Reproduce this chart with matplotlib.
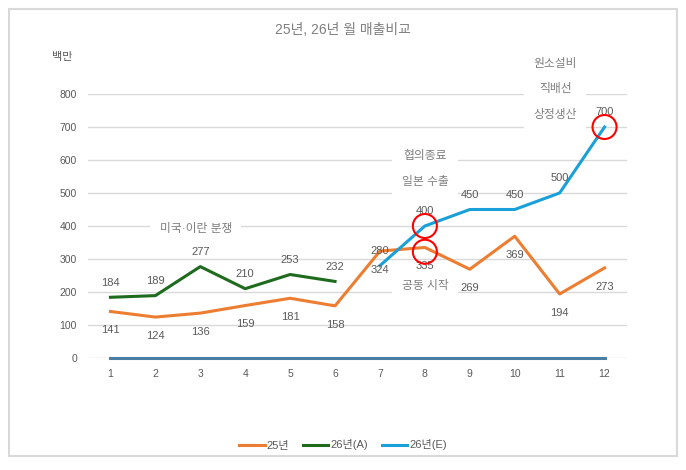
import matplotlib
matplotlib.use("Agg")
import matplotlib.pyplot as plt
from matplotlib.patches import Rectangle, Ellipse

plt.rcParams["font.family"] = ["Liberation Sans", "Noto Sans CJK KR", "DejaVu Sans"]

months = list(range(1, 13))
sales_25 = [141, 124, 136, 159, 181, 158, 324, 335, 269, 369, 194, 273]
months_26a = [1, 2, 3, 4, 5, 6]
sales_26a = [184, 189, 277, 210, 253, 232]
months_26e = [7, 8, 9, 10, 11, 12]
sales_26e = [280, 400, 450, 450, 500, 700]
base_line = [0] * 12

title = "25년, 26년 월 매출비교"
unit = "백만"
notes = [
    (2.9, 392, "미국·이란 분쟁"),
    (8.0, 573, "협의종료\n일본 수출"),
    (8.0, 218, "공동 시작"),
    (10.9, 815, "원소설비\n직배선\n상정생산"),
]
circles = [(8, 400), (8, 322), (12, 700)]

TEXT = "#595959"
C25 = "#ED7D31"
C26A = "#1E6B1E"
C26E = "#1AA0D8"

fig = plt.figure(figsize=(6.86, 4.70), dpi=100)
fig.patches.append(Rectangle((9 / 686, 14 / 470), 668 / 686, 447 / 470,
                             transform=fig.transFigure, fill=False,
                             edgecolor="#d9d9d9", linewidth=1.5))
ax = fig.add_axes([88 / 686, 1 - 358 / 470, 539 / 686, 264 / 470])
ax.set_xlim(0.5, 12.5)
ax.set_ylim(0, 800)
ax.set_yticks(range(0, 801, 100))
ax.set_xticks(months)
ax.grid(axis="y", color="#d9d9d9", linewidth=1)
ax.set_axisbelow(True)
for s in ax.spines.values():
    s.set_visible(False)
ax.tick_params(length=0, colors=TEXT, labelsize=7.5, pad=8)

ax.plot(months, base_line, color="#4A7FA3", linewidth=2.2, clip_on=False, zorder=3)
l25, = ax.plot(months, sales_25, color=C25, linewidth=2.2, clip_on=False, zorder=3)
l26a, = ax.plot(months_26a, sales_26a, color=C26A, linewidth=2.2, clip_on=False, zorder=3)
l26e, = ax.plot(months_26e, sales_26e, color=C26E, linewidth=2.2, clip_on=False, zorder=3)

for x, y in zip(months, sales_25):
    ax.annotate(str(y), (x, y), xytext=(0, -10), textcoords="offset points",
                ha="center", va="top", fontsize=8, color=TEXT, zorder=5)
for x, y in zip(months_26a, sales_26a):
    ax.annotate(str(y), (x, y), xytext=(0, 7), textcoords="offset points",
                ha="center", va="bottom", fontsize=8, color=TEXT, zorder=5)
for x, y in zip(months_26e, sales_26e):
    ax.annotate(str(y), (x, y), xytext=(0, 7), textcoords="offset points",
                ha="center", va="bottom", fontsize=8, color=TEXT, zorder=5)

for x, y, t in notes:
    ax.text(x, y, t, ha="center", va="center", fontsize=8.5, color="#7f7f7f",
            linespacing=2.5, zorder=4,
            bbox=dict(boxstyle="square,pad=0.8", facecolor="white", edgecolor="none"))

for x, y in circles:
    ax.add_patch(Ellipse((x, y), 24 / 44.9, 24 / 0.33, fill=False,
                         edgecolor="red", linewidth=1.5, zorder=6, clip_on=False))

fig.text(343 / 686, 1 - 30 / 470, title, ha="center", va="center",
         fontsize=10, color="#7f7f7f")
fig.text(62 / 686, 1 - 57 / 470, unit, ha="center", va="center",
         fontsize=8, color=TEXT)

fig.legend([l25, l26a, l26e], ["25년", "26년(A)", "26년(E)"],
           loc="center", bbox_to_anchor=(343 / 686, 1 - 445 / 470), ncol=3,
           frameon=False, fontsize=8, handlelength=2.3, handletextpad=0.2,
           columnspacing=1.2, labelcolor=TEXT)

fig.savefig("out.png", dpi=100)
